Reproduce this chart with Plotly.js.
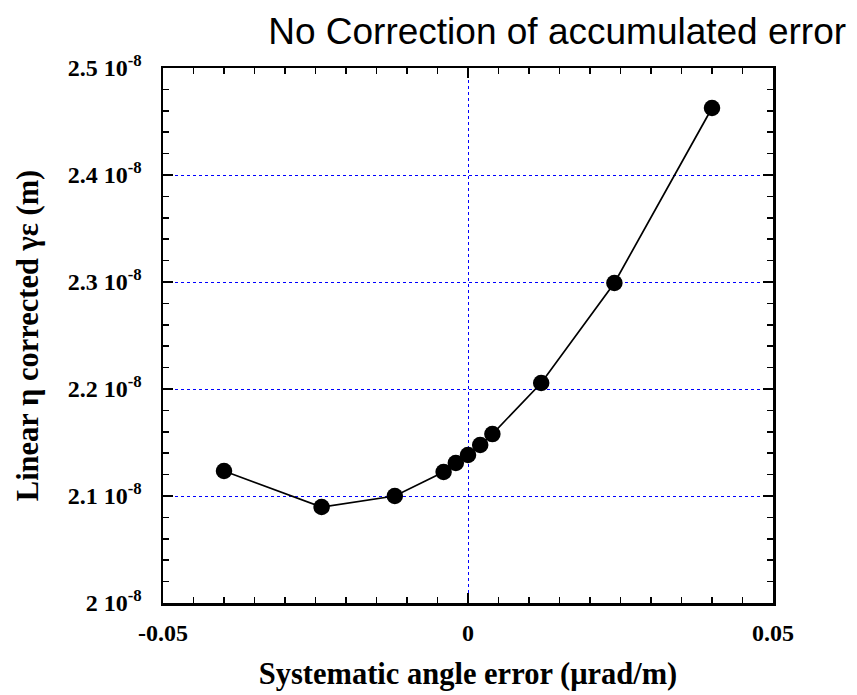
<!DOCTYPE html>
<html><head><meta charset="utf-8">
<script src="https://cdn.plot.ly/plotly-3.0.1.min.js"></script>
<style>html,body{margin:0;padding:0;background:#fff}</style>
</head><body>
<div id="chart" style="width:857px;height:695px"></div>
<script>
const angleError = [-0.040, -0.024, -0.012, -0.004, -0.002, 0.000, 0.002, 0.004, 0.012, 0.024, 0.040];
const emittance = [2.1234e-8, 2.0897e-8, 2.1000e-8, 2.1224e-8, 2.1308e-8, 2.1383e-8, 2.1477e-8, 2.1579e-8, 2.2056e-8, 2.2991e-8, 2.4626e-8];
const xTickVals = [-0.05, 0, 0.05];
const xTickText = ['-0.05', '0', '0.05'];
const yTickVals = [2.0e-8, 2.1e-8, 2.2e-8, 2.3e-8, 2.4e-8, 2.5e-8];
const yTickText = ['2 10<sup>-8</sup>', '2.1 10<sup>-8</sup>', '2.2 10<sup>-8</sup>', '2.3 10<sup>-8</sup>', '2.4 10<sup>-8</sup>', '2.5 10<sup>-8</sup>'];

const serif = 'Liberation Serif, Times New Roman, serif';
const trace = {
  x: angleError, y: emittance, type: 'scatter', mode: 'lines+markers',
  line: {color: '#000', width: 1.7},
  marker: {color: '#000', size: 16.5, symbol: 'circle'},
  hoverinfo: 'skip'
};
const layout = {
  width: 857, height: 695,
  margin: {l: 163, r: 84, t: 68, b: 92},
  paper_bgcolor: '#fff', plot_bgcolor: '#fff',
  showlegend: false,
  title: {text: 'No Correction of accumulated error', xref: 'container', x: 0.313, xanchor: 'left',
          yref: 'container', y: 0.955, yanchor: 'middle',
          font: {family: 'Liberation Sans, Arial, sans-serif', size: 37, color: '#000'}},
  xaxis: {
    range: [-0.05, 0.05], tickvals: xTickVals, ticktext: xTickText,
    showgrid: true, gridcolor: '#0000ff', griddash: 'dot', gridwidth: 1,
    zeroline: false, showline: true, linecolor: '#000', linewidth: 2.5, mirror: 'allticks',
    ticks: 'inside', ticklen: 10, tickwidth: 2, tickcolor: '#000',
    minor: {dtick: 0.005, ticks: 'inside', ticklen: 6, tickwidth: 1.5, tickcolor: '#000', showgrid: false},
    tickfont: {family: serif, size: 24, color: '#000', weight: 'bold'},
    ticklabelstandoff: 7,
    title: {text: '<b>Systematic angle error (μrad/m)</b>', standoff: 18,
            font: {family: serif, size: 30.5, color: '#000'}}
  },
  yaxis: {
    range: [2.0e-8, 2.5e-8], tickvals: yTickVals, ticktext: yTickText,
    showgrid: true, gridcolor: '#0000ff', griddash: 'dot', gridwidth: 1,
    zeroline: false, showline: true, linecolor: '#000', linewidth: 2.5, mirror: 'allticks',
    ticks: 'inside', ticklen: 10, tickwidth: 2, tickcolor: '#000',
    minor: {dtick: 0.02e-8, ticks: 'inside', ticklen: 6, tickwidth: 1.5, tickcolor: '#000', showgrid: false},
    tickfont: {family: serif, size: 24, color: '#000', weight: 'bold'},
    ticklabelstandoff: 14,
    title: {text: '<b>Linear η corrected γε (m)</b>', standoff: 20,
            font: {family: serif, size: 30.5, color: '#000'}}
  }
};
Plotly.newPlot('chart', [trace], layout, {displayModeBar: false, staticPlot: true});
</script>
</body></html>
